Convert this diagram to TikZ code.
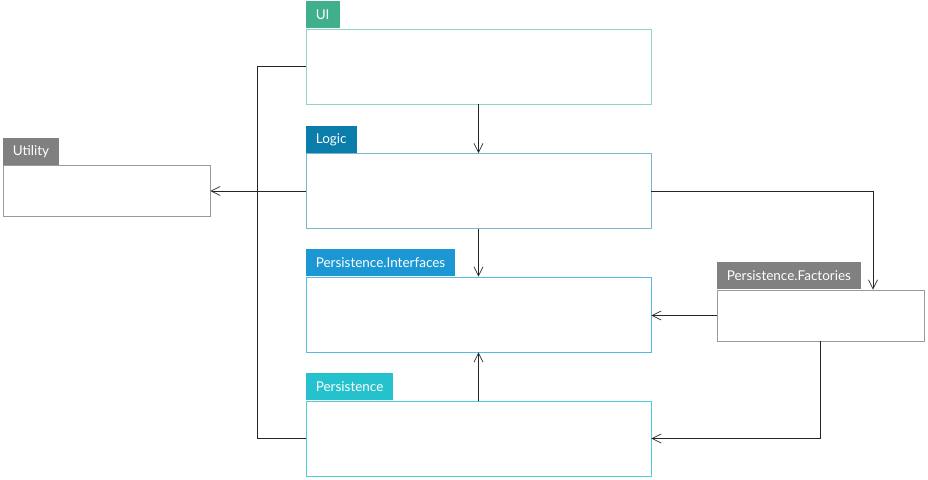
\documentclass[tikz,border=0pt]{standalone}
\usepackage{fontspec}
\setmainfont{Lato}
\usepackage{tikz}
\usetikzlibrary{arrows.meta}
\usetikzlibrary{calc,positioning}

\definecolor{uitab}{HTML}{40B08C}
\definecolor{uiline}{HTML}{8ED6C2}
\definecolor{logictab}{HTML}{0B7DAA}
\definecolor{logicline}{HTML}{7AB6CE}
\definecolor{intftab}{HTML}{1B98D3}
\definecolor{intfline}{HTML}{55BBE3}
\definecolor{perstab}{HTML}{25C2CE}
\definecolor{persline}{HTML}{4ECFD6}
\definecolor{greytab}{HTML}{808080}
\definecolor{greyline}{HTML}{9A9A9A}

\begin{document}
\begin{tikzpicture}[x=1pt, y=-1pt,
			pkgbody/.style={rectangle, draw, line width=0.8pt, fill=white, inner sep=0pt},
			bigbody/.style={pkgbody, minimum width=345pt, minimum height=75pt},
			smallbody/.style={pkgbody, minimum width=207pt, minimum height=51pt},
			pkgtab/.style={rectangle, text=white, inner xsep=10pt, inner ysep=0pt,
					minimum height=27pt, font=\fontsize{13.5}{16}\selectfont},
			arr/.style={-{Straight Barb[length=9pt,width=9pt]}, line width=0.7pt, black!85},
			wire/.style={line width=0.7pt, black!85},]
		\useasboundingbox (0,0) rectangle (928,479);

		\node (ui) [bigbody, draw=uiline] at (478.5,66.5) {};
		\node (uitab) [pkgtab, fill=uitab, above right=0pt and 0pt of ui.north west] {UI};

		\node (logic) [bigbody, draw=logicline] at (478.5,191) {};
		\node (logictab) [pkgtab, fill=logictab, above right=0pt and 0pt of logic.north west] {Logic};

		\node (intf) [bigbody, draw=intfline] at (478.5,314.5) {};
		\node (intftab) [pkgtab, fill=intftab, above right=0pt and 0pt of intf.north west] {Persistence.Interfaces};

		\node (pers) [bigbody, draw=persline] at (478.5,438.5) {};
		\node (perstab) [pkgtab, fill=perstab, above right=0pt and 0pt of pers.north west] {Persistence};

		\node (util) [smallbody, draw=greyline] at (106.5,191) {};
		\node (utiltab) [pkgtab, fill=greytab, above right=0pt and 0pt of util.north west] {Utility};

		\node (fact) [smallbody, draw=greyline] at (820.5,315.5) {};
		\node (facttab) [pkgtab, fill=greytab, above right=0pt and 0pt of fact.north west] {Persistence.Factories};

		% dependencies
		\draw [arr] (ui.south) -- (logic.north);
		\draw [arr] (logic.south) -- (intf.north);
		\draw [arr] (pers.north) -- (intf.south);
		\draw [arr] (logic.east) -| ([xshift=52.5pt]fact.north);
		\draw [arr] (fact.west) -- (fact.west -| intf.east);
		\draw [arr] (fact.south) |- (pers.east);
		\draw [arr] (logic.west) -- (util.east);
		\draw [wire] (ui.west) -- ++(-48,0) |- (pers.west);
	\end{tikzpicture}
\end{document}
